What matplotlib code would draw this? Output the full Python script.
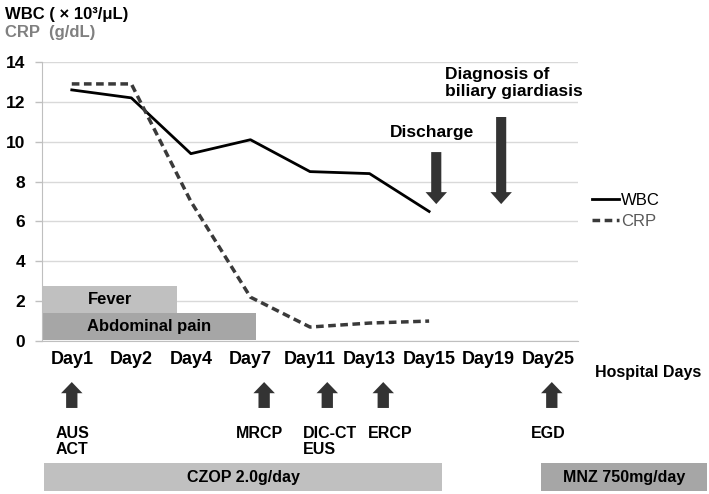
import matplotlib
matplotlib.use("Agg")
import matplotlib.pyplot as plt
from matplotlib.patches import FancyArrow, Rectangle

plt.rcParams['font.family'] = ['Liberation Sans', 'DejaVu Sans']

days = ["Day1", "Day2", "Day4", "Day7", "Day11", "Day13", "Day15", "Day19", "Day25"]
wbc = [12.6, 12.2, 9.4, 10.1, 8.5, 8.4, 6.5]
crp = [12.9, 12.9, 7.0, 2.2, 0.7, 0.9, 1.0]
yticks = [0, 2, 4, 6, 8, 10, 12, 14]

# symptom bars: (label, x_end, y_bottom, y_top, color)
symptoms = [("Fever", 1.77, 1.40, 2.77, "#c0c0c0"),
            ("Abdominal pain", 3.10, 0.05, 1.40, "#a6a6a6")]
# down arrows: (label, x, top, tip)
events_down = [("Discharge", 6.12, 9.48, 6.87),
               ("Diagnosis of\nbiliary giardiasis", 7.21, 11.24, 6.87)]
# up arrows (examinations): (label, x arrow, x label, ha)
exams = [("AUS\nACT", 0.0, -0.28, "left"),
         ("MRCP", 3.23, 3.16, "center"),
         ("DIC-CT\nEUS", 4.29, 3.88, "left"),
         ("ERCP", 5.23, 5.34, "center"),
         ("EGD", 8.06, 8.0, "center")]
# drugs: (label, x_start, x_end, color)
drugs = [("CZOP 2.0g/day", -0.466, 6.216, "#c0c0c0"),
         ("MNZ 750mg/day", 7.878, 10.665, "#a6a6a6")]

fig = plt.figure(figsize=(7.09, 4.94), dpi=100)
ax = fig.add_axes([42/709, 1 - 341/494, (578-42)/709, (341-62)/494])

x = list(range(len(days)))
ax.plot(x[:len(wbc)], wbc, color="black", lw=2.0, label="WBC", zorder=4)
ax.plot(x[:len(crp)], crp, color="#3a3a3a", lw=2.5, ls=(0, (2.2, 1.3)), label="CRP", zorder=4)

ax.set_xlim(-0.5, len(days) - 0.5)
ax.set_ylim(0, 14)
ax.set_yticks(yticks)
ax.set_yticklabels([str(t) for t in yticks], fontsize=12.5, fontweight="bold")
ax.set_xticks(x)
ax.set_xticklabels(days, fontsize=13, fontweight="bold")
ax.tick_params(axis="x", length=0, pad=7)
ax.tick_params(axis="y", length=5, color="#bfbfbf", width=1, pad=7)
ax.grid(axis="y", color="#d9d9d9", lw=1)
ax.set_axisbelow(True)
for s in ["top", "right"]:
    ax.spines[s].set_visible(False)
ax.spines["left"].set_color("#bfbfbf")
ax.spines["bottom"].set_color("#bfbfbf")

for lab, xe, yb, yt, c in symptoms:
    ax.add_patch(Rectangle((-0.5, yb), xe + 0.5, yt - yb, color=c, zorder=2, lw=0))
    ax.text((-0.5 + xe) / 2, (yb + yt) / 2, lab, ha="center", va="center",
            fontsize=12, fontweight="bold", zorder=3)

acol = "#333333"
for lab, xa, top, tip in events_down:
    ax.add_patch(FancyArrow(xa, top, 0, tip - top, width=0.17, head_width=0.36,
                            head_length=0.6, length_includes_head=True,
                            color=acol, lw=0, zorder=5, clip_on=False))
ax.text(6.05, 10.45, events_down[0][0], ha="center", va="center", fontsize=12.5, fontweight="bold")
ax.text(6.27, 12.95, events_down[1][0], ha="left", va="center", fontsize=12.5,
        fontweight="bold", linespacing=1.2)

for lab, xa, xl, ha in exams:
    ax.add_patch(FancyArrow(xa, -3.36, 0, 1.30, width=0.19, head_width=0.36,
                            head_length=0.56, length_includes_head=True,
                            color=acol, lw=0, zorder=5, clip_on=False))
    ax.text(xl, -4.25, lab, ha=ha, va="top", fontsize=11.5, fontweight="bold",
            linespacing=1.15, clip_on=False)

for lab, x0, x1, c in drugs:
    ax.add_patch(Rectangle((x0, -7.53), x1 - x0, 1.41, color=c, lw=0, clip_on=False))
    ax.text((x0 + x1) / 2, -6.83, lab, ha="center", va="center", fontsize=11.5,
            fontweight="bold", clip_on=False)

fig.text(648/709, 1 - 373/494, "Hospital Days", ha="center", va="center",
         fontsize=11.5, fontweight="bold")
fig.text(5/709, 1 - 15/494, "WBC ( × 10³/μL)", ha="left", va="center",
         fontsize=12, fontweight="bold", color="black")
fig.text(5/709, 1 - 33/494, "CRP  (g/dL)", ha="left", va="center",
         fontsize=12, fontweight="bold", color="#808080")

leg = ax.legend(loc="center left", bbox_to_anchor=(592/709, 1 - 211/494),
                bbox_transform=fig.transFigure, frameon=False, fontsize=12,
                handlelength=1.6, handletextpad=0.15, labelspacing=0.35,
                borderpad=0, borderaxespad=0)
leg.get_texts()[1].set_color("#595959")

fig.savefig("out.png", dpi=100)
